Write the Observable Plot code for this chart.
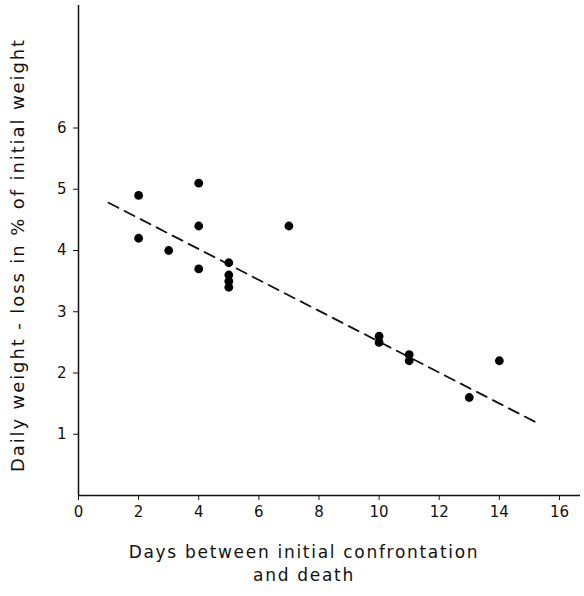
<!DOCTYPE html>
<html><head><meta charset="utf-8">
<script src="https://cdn.jsdelivr.net/npm/d3@7"></script>
<script src="https://cdn.jsdelivr.net/npm/@observablehq/plot@0.6"></script>
<style>body{margin:0;background:#fff}#c{position:relative;width:584px;height:596px}</style>
</head><body><div id="c"></div>
<script>
const days = [2, 2, 3, 4, 4, 4, 5, 5, 5, 5, 7, 10, 10, 11, 11, 13, 14];
const loss = [4.9, 4.2, 4.0, 5.1, 4.4, 3.7, 3.8, 3.6, 3.5, 3.4, 4.4, 2.6, 2.5, 2.3, 2.2, 1.6, 2.2];
const fitX = [1, 15.2];
const fitY = [4.78, 1.2];
const xTicks = [0, 2, 4, 6, 8, 10, 12, 14, 16];
const yTicks = [1, 2, 3, 4, 5, 6];
const xLabel = ["Days between initial confrontation", "and death"];
const yLabel = "Daily weight - loss in % of initial weight";

const pts = days.map((d, i) => ({x: d, y: loss[i]}));
const fit = fitX.map((d, i) => ({x: d, y: fitY[i]}));
const font = "DejaVu Sans";

const chart = Plot.plot({
  width: 584, height: 596,
  marginLeft: 78, marginRight: 4, marginTop: 5, marginBottom: 101,
  style: {fontFamily: font, fontSize: "15px", color: "#111", background: "#fff"},
  x: {domain: [0, 16.7], ticks: xTicks, tickSize: 5, tickPadding: 6, label: null},
  y: {domain: [0, 8.0], ticks: yTicks, tickSize: 5, tickPadding: 7, label: null},
  marks: [
    Plot.ruleX([0], {stroke: "#111", strokeWidth: 1.5}),
    Plot.ruleY([0], {stroke: "#111", strokeWidth: 1.5}),
    Plot.line(fit, {x: "x", y: "y", stroke: "#111", strokeWidth: 1.8, strokeDasharray: "11,7"}),
    Plot.dot(pts, {x: "x", y: "y", r: 4.4, fill: "#000", stroke: "none"})
  ]
});
const c = document.getElementById("c");
c.appendChild(chart);

const svg = d3.select(chart);
svg.append("text").attr("x", 304).attr("y", 558).attr("text-anchor", "middle")
  .attr("font-family", font).attr("font-size", 17).attr("letter-spacing", 1.7).attr("fill", "#111").text(xLabel[0]);
svg.append("text").attr("x", 304).attr("y", 581).attr("text-anchor", "middle")
  .attr("font-family", font).attr("font-size", 17).attr("letter-spacing", 1.7).attr("fill", "#111").text(xLabel[1]);
svg.append("text").attr("transform", "translate(24,255) rotate(-90)").attr("text-anchor", "middle")
  .attr("font-family", font).attr("font-size", 18).attr("letter-spacing", 1.9).attr("fill", "#111").text(yLabel);
</script>
</body></html>
